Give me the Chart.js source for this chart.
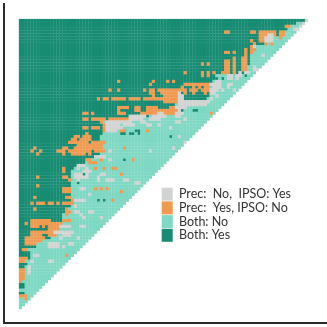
<!DOCTYPE html>
<html>
<head>
<meta charset="utf-8">
<script src="https://cdn.jsdelivr.net/npm/chart.js@4/dist/chart.umd.min.js"></script>
<style>
  html, body { margin: 0; background: #fff; }
  canvas { display: block; }
</style>
</head>
<body>
<canvas id="chart" width="327" height="327"></canvas>
<script>
const legendLabels = ['Prec:  No,  IPSO: Yes', 'Prec:  Yes, IPSO: No', 'Both: No', 'Both: Yes'];
const colors = ['#d2d4d3', '#ef9a50', '#7fd8c3', '#178c73'];

// number of "Both: Yes" cells at the start of each of the 100 rows
const yesEdge = [
  99, 96, 94, 93, 92, 92, 88, 87, 85, 81,
  81, 80, 80, 80, 80, 80, 79, 79, 79, 68,
  69, 67, 66, 66, 66, 66, 66, 65, 65, 54,
  54, 52, 50, 40, 37, 29, 29, 29, 29, 29,
  28, 28, 29, 29, 29, 29, 28, 26, 24, 23,
  20, 19, 18, 18, 18, 18, 18, 18, 18, 18,
  18, 18, 18, 18, 18, 17, 16, 15, 15, 15,
  14, 14, 13, 13, 12, 11, 8, 6, 6, 3,
  4, 4, 4, 2, 3, 2, 2, 2, 2, 2,
  1, 2, 2, 0, 2, 3, 0, 0, 0, 0
];

// [row, first col, last col]
const bothYesRuns = [
  [19,78,78],[20,70,70],[31,56,56],[31,60,61],[33,35,36],[33,44,44],[38,40,41],
  [39,35,36],[39,38,39],[39,41,41],[40,52,52],[48,24,24],[48,36,36],[49,24,24],
  [53,22,22],[56,20,20],[62,27,27],[62,29,29]
];
const precRuns = [
  [2,92,93],[4,71,72],[4,80,81],[4,83,88],[4,90,91],[5,83,85],[5,87,88],[5,90,91],
  [6,83,85],[6,90,90],[7,80,80],[7,83,84],[8,81,81],[8,85,85],[8,87,87],[9,80,81],
  [10,78,78],[10,80,81],[11,71,72],[11,74,74],[11,78,78],[11,80,80],[12,78,78],
  [13,74,74],[13,77,78],[14,71,72],[14,74,74],[14,77,78],[15,63,63],[15,65,65],
  [15,71,72],[15,74,74],[15,77,78],[16,71,72],[16,74,74],[16,77,78],[17,71,72],
  [17,74,74],[17,77,78],[18,57,57],[18,63,63],[18,65,65],[18,67,67],[18,70,72],
  [18,74,74],[19,63,63],[19,65,65],[21,34,34],[21,46,46],[21,51,51],[21,53,53],
  [22,45,45],[22,57,65],[23,56,56],[23,60,60],[23,62,62],[23,64,65],
  [24,31,31],[24,34,34],[24,43,43],[24,45,46],[24,48,55],[24,56,57],[24,59,61],[24,63,65],
  [25,45,46],[25,49,55],[25,57,57],[25,60,60],[25,64,64],[26,46,46],[26,50,54],
  [27,27,27],[27,29,30],[27,32,36],[27,38,41],[27,43,54],[28,50,54],[29,57,57],
  [30,34,37],[30,40,41],[30,44,47],[30,52,54],[31,34,34],[31,40,41],[31,44,54],
  [32,22,23],[32,25,25],[32,34,36],[32,42,47],[32,50,53],[32,66,66],
  [34,22,23],[34,25,29],[34,31,39],[35,28,28],[36,29,29],
  [37,22,23],[37,25,27],[37,29,29],[38,29,29],[38,35,36],[38,44,44],[39,23,23],
  [40,19,20],[40,22,24],[41,18,19],[41,21,24],[42,17,20],[42,21,23],[42,25,29],
  [43,20,28],[44,5,5],[44,15,16],[44,19,28],[44,36,36],[45,4,4],[45,7,7],[45,13,15],
  [45,17,24],[45,26,29],[46,6,6],[46,15,15],[46,18,22],[46,24,24],
  [48,23,24],[48,28,28],[48,39,39],[49,24,26],[51,15,15],[51,26,26],[51,29,29],[51,32,33],
  [52,15,15],[53,35,35],[54,6,6],[54,15,16],[55,17,17],[57,6,6],[58,15,17],[58,26,26],[58,28,28],[58,30,30],
  [59,15,17],[59,35,35],[61,5,5],[61,16,17],[62,18,18],[62,32,32],
  [63,4,4],[63,6,8],[63,10,11],[63,13,13],[63,15,18],[65,5,5],[65,16,16],[66,16,17],[67,16,16],
  [69,4,8],[69,9,10],[69,15,17],[70,2,2],[70,4,14],[71,4,6],[71,8,8],[71,10,13],[72,10,13],
  [73,4,11],[73,13,13],[74,4,7],[74,10,12],[75,2,8],[76,2,7],[77,2,5],[79,1,2],[81,16,16],
  [82,0,2],[83,0,1],[83,4,4],[86,0,1],[87,0,1],[88,0,1],[89,0,1],[90,0,0],[95,0,2],[96,2,2]
];
const ipsoRuns = [
  [0,99,99],[1,98,98],[2,97,97],[3,95,96],[5,86,87],[6,85,87],[7,85,87],[9,81,81],[12,84,84],
  [16,81,81],[17,81,82],[18,76,76],[18,78,79],[19,72,73],[19,75,76],[20,72,73],[20,75,75],
  [21,68,69],[22,66,67],[22,68,69],[22,72,73],[23,67,69],[23,72,72],[24,66,68],[24,70,70],[24,74,74],
  [25,55,55],[25,66,67],[26,55,56],[26,68,68],[27,55,56],[27,66,66],[28,55,65],[29,55,64],
  [30,54,57],[31,55,55],[32,48,49],[32,54,56],[33,38,40],[33,41,43],[33,46,50],[33,54,55],
  [34,38,42],[34,45,48],[34,57,57],[35,30,38],[35,42,43],[35,54,55],[36,30,34],[36,36,39],[36,44,45],[36,48,48],
  [37,30,35],[37,52,52],[38,30,33],[40,55,55],[42,57,57],[44,53,53],[45,31,31],[45,45,45],
  [47,26,29],[48,31,31],[50,20,22],[50,21,21],[51,20,20],[51,23,23],[52,22,24],[53,19,21],[53,23,23],
  [53,28,29],[54,19,23],[54,27,27],[55,20,20],[55,27,27],[55,30,32],[55,36,37],[56,40,41],[58,21,22],
  [60,24,24],[62,19,22],[64,19,19],[66,19,20],[66,24,25],[67,21,21],[68,22,22],[68,28,28],
  [71,14,17],[71,21,22],[73,12,18],[74,15,17],[75,14,14],[75,20,20],[77,10,13],[77,17,18],[78,10,13],
  [78,15,15],[81,5,6],[83,4,4],[83,10,11],[85,3,3],[86,3,3],[87,3,3]
];

const statusIpso = 0, statusPrec = 1, statusNo = 2, statusYes = 3;

// expand the row data into one bar per cell, so the seams between cells show
function buildCells() {
  const grid = yesEdge.map((edge, r) => {
    const row = [];
    for (let c = 0; c < 100 - r; c++) row.push(c < edge ? statusYes : statusNo);
    return row;
  });
  const mark = (runs, status) => runs.forEach(([r, a, b]) => {
    for (let c = a; c <= b && c < 100 - r; c++) grid[r][c] = status;
  });
  mark(bothYesRuns, statusYes);
  mark(precRuns, statusPrec);
  mark(ipsoRuns, statusIpso);

  const cells = colors.map(() => []);
  grid.forEach((row, r) => row.forEach((status, c) => {
    cells[status].push({ x: [c, c + 1], y: r + 0.5 });
  }));
  return cells;
}

const cells = buildCells();

const moveLegend = {
  id: 'moveLegend',
  afterLayout(chart) {
    chart.legend.left = 161;
    chart.legend.top = 187;
    chart.legend.bottom = 300;
    chart.legend.right = 320;
  }
};

new Chart(document.getElementById('chart'), {
  type: 'bar',
  data: {
    datasets: legendLabels.map((label, i) => ({
      label: label,
      data: cells[i],
      backgroundColor: colors[i],
      borderWidth: 0,
      inflateAmount: 0.14,
      barPercentage: 1,
      categoryPercentage: 1,
      grouped: false
    }))
  },
  options: {
    indexAxis: 'y',
    responsive: false,
    animation: false,
    events: [],
    layout: { padding: { left: 4, top: 4, right: 0, bottom: 4 } },
    plugins: {
      tooltip: { enabled: false },
      legend: {
        position: 'chartArea',
        align: 'start',
        labels: {
          boxWidth: 11,
          boxHeight: 13,
          padding: 0.7,
          color: '#333',
          font: { family: 'Lato', size: 12.5 }
        }
      }
    },
    scales: {
      x: {
        type: 'linear',
        min: -5.19,
        max: 106.6,
        grid: { display: false, drawTicks: false },
        ticks: { display: false },
        border: { color: '#2a2a2a', width: 2 }
      },
      y: {
        type: 'linear',
        reverse: true,
        offset: false,
        min: -5.19,
        max: 104.8,
        grid: { display: false, drawTicks: false },
        ticks: { display: false },
        border: { color: '#2a2a2a', width: 2 }
      }
    }
  },
  plugins: [moveLegend]
});
</script>
</body>
</html>
